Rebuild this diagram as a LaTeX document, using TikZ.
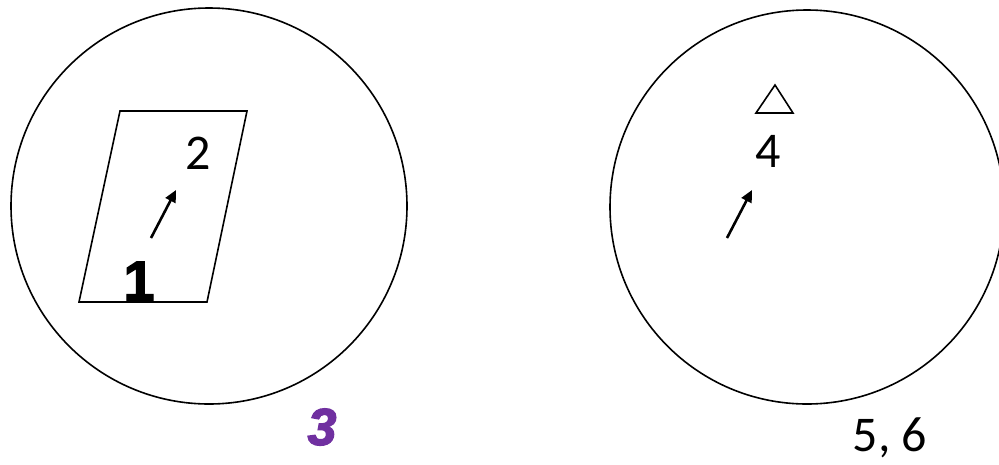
\documentclass[tikz,border=0pt]{standalone}
\usepackage{fontspec}
\setmainfont{Carlito}
\newfontfamily\heavyfont[FakeBold=2.5]{Liberation Sans Bold}
\newfontfamily\heavyitfont[FakeBold=2.5]{Liberation Sans Bold Italic}
\usetikzlibrary{arrows.meta}
\definecolor{purp}{HTML}{7030A0}
\begin{document}
\begin{tikzpicture}[x=1pt,y=-1pt,
  ring/.style={draw,line width=1.6pt},
  outline/.style={draw,line width=1.6pt,line join=miter},
  pointer/.style={draw,line width=2.6pt,-{Triangle[length=12pt,width=11pt]}},
  lbl/.style={inner sep=0pt,font=\fontsize{50}{60}\selectfont}]
\useasboundingbox (0,0) rectangle (999,464);
\node[ring,circle,minimum size=396pt,inner sep=0pt] (c1) at (209,206) {};
\begin{scope}
\clip (0,0) rectangle (999,464);
\node[ring,circle,minimum size=394pt,inner sep=0pt] (c2) at (807,207) {};
\end{scope}
\coordinate (p1) at (120,111);
\coordinate (p2) at (247,111);
\coordinate (p3) at (207,302);
\coordinate (p4) at (79,302);
\draw[outline] (p1) -- (p2) -- (p3) -- (p4) -- cycle;
\node[lbl] (n2) at (198,153) {2};
\node[inner sep=0pt,font=\heavyfont\fontsize{56}{60}\selectfont] (n1) at (139,281) {1};
\coordinate (a1s) at (151,238);
\coordinate (a1e) at (176,190);
\draw[pointer] (a1s) -- (a1e);
\node[inner sep=0pt,text=purp,font=\heavyitfont\fontsize{52}{60}\selectfont] (n3) at (322,427) {3};
\coordinate (t1) at (775,85);
\coordinate (t2) at (793,113);
\coordinate (t3) at (756,113);
\draw[outline] (t1) -- (t2) -- (t3) -- cycle;
\node[lbl] (n4) at (768,151) {4};
\coordinate (a2s) at (727,238);
\coordinate (a2e) at (752,190);
\draw[pointer] (a2s) -- (a2e);
\node[lbl] (n56) at (890,438) {5, 6};
\end{tikzpicture}
\end{document}
